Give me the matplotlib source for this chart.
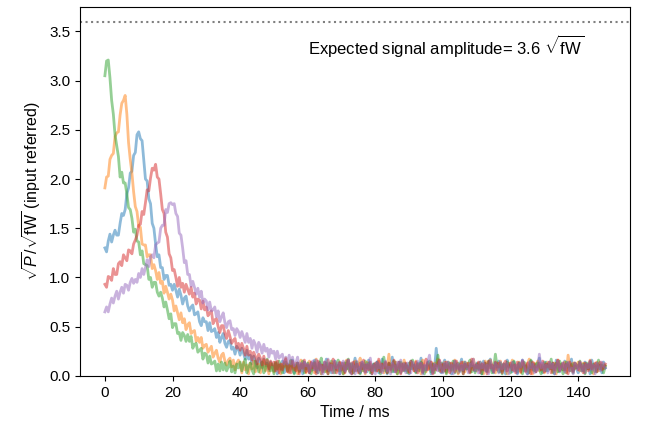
import numpy as np
import matplotlib
matplotlib.use("Agg")
import matplotlib.pyplot as plt

plt.rcParams["font.family"] = ["Liberation Sans", "DejaVu Sans"]
plt.rcParams["mathtext.fontset"] = "custom"
plt.rcParams["mathtext.rm"] = "Liberation Sans"
plt.rcParams["mathtext.it"] = "Liberation Sans:italic"

# sample step of the traces (ms)
dt = 0.5
amplitude = 3.6

# traces in units of 0.01 sqrt(fW), one sample every 0.5 ms
blue = [130, 126, 137, 144, 136, 143, 148, 143, 143, 155, 165, 163, 169, 185, 191, 206, 208, 224, 227, 245,
        248, 241, 239, 219, 200, 198, 180, 175, 155, 150, 134, 121, 123, 110, 110, 98, 102, 102, 92, 93,
        87, 93, 87, 80, 88, 82, 73, 79, 81, 71, 66, 70, 72, 62, 63, 65, 55, 51, 59, 55,
        55, 46, 54, 45, 46, 48, 39, 44, 34, 39, 43, 33, 29, 35, 36, 27, 29, 22, 30, 27,
        21, 28, 23, 17, 26, 17, 21, 12, 20, 16, 8, 18, 15, 8, 17, 10, 13, 5, 14, 9,
        5, 14, 2, 11, 7, 15, 3, 9, 12, 4, 10, 16, 3, 8, 13, 5, 11, 2, 14, 7,
        10, 3, 13, 6, 16, 4, 9, 14, 2, 11, 7, 17, 5, 12, 3, 9, 15, 6, 11, 2,
        13, 8, 4, 15, 7, 12, 2, 10, 18, 5, 9, 3, 14, 7, 11, 4, 16, 8, 2, 12,
        6, 14, 3, 10, 17, 5, 9, 2, 12, 7, 19, 4, 11, 6, 14, 3, 9, 13, 5, 10,
        2, 15, 7, 11, 4, 13, 8, 18, 3, 10, 6, 14, 9, 2, 12, 7, 28, 11, 5, 3,
        12, 16, 4, 9, 13, 2, 8, 15, 10, 3, 11, 17, 5, 12, 7, 10, 3, 14, 9, 5,
        13, 6, 11, 2, 15, 8, 4, 12, 17, 6, 3, 13, 9, 15, 4, 11, 7, 2, 16, 9,
        11, 4, 14, 7, 2, 13, 9, 16, 5, 10, 2, 8, 15, 6, 12, 4, 11, 18, 7, 3,
        9, 14, 5, 11, 7, 13, 2, 16, 8, 4, 12, 6, 15, 3, 13, 9, 17, 5, 10, 7,
        3, 13, 9, 5, 14, 7, 12, 2, 16, 9, 4, 13, 7, 11, 3, 14, 8]

orange = [191, 202, 203, 220, 224, 226, 243, 247, 248, 265, 277, 280, 285, 266, 237, 220, 206, 187, 172, 167,
          152, 151, 134, 133, 133, 121, 123, 123, 109, 113, 107, 98, 105, 94, 96, 84, 91, 85, 78, 83,
          77, 66, 71, 64, 57, 64, 54, 58, 47, 52, 54, 43, 45, 46, 35, 39, 34, 39, 28, 31,
          32, 24, 27, 30, 19, 23, 26, 18, 14, 21, 23, 15, 11, 16, 18, 9, 16, 6, 13, 16,
          12, 3, 14, 6, 11, 2, 13, 7, 15, 4, 10, 12, 3, 9, 16, 5, 11, 2, 13, 8,
          4, 14, 7, 11, 2, 12, 9, 18, 5, 3, 15, 10, 6, 13, 2, 9, 16, 7, 11, 3,
          12, 15, 5, 10, 3, 17, 8, 13, 2, 11, 9, 4, 16, 6, 12, 3, 14, 9, 5, 13,
          8, 2, 12, 16, 7, 4, 13, 3, 15, 9, 11, 18, 5, 10, 2, 14, 7, 12, 4, 11,
          9, 5, 15, 7, 12, 3, 13, 8, 22, 4, 11, 6, 14, 2, 10, 13, 5, 16, 9, 6,
          3, 13, 10, 5, 15, 8, 12, 2, 16, 9, 4, 12, 7, 14, 3, 13, 10, 17, 5, 11,
          7, 14, 3, 10, 13, 5, 11, 16, 8, 2, 12, 9, 14, 4, 13, 7, 3, 11, 17, 9,
          5, 13, 8, 12, 2, 15, 10, 4, 16, 11, 7, 3, 13, 9, 15, 5, 12, 8, 2, 13,
          9, 16, 5, 11, 7, 14, 3, 13, 10, 4, 12, 17, 8, 2, 13, 9, 15, 5, 11, 7,
          3, 11, 14, 7, 10, 4, 13, 2, 16, 9, 12, 6, 14, 3, 21, 9, 5, 13, 7, 11,
          14, 5, 10, 13, 3, 11, 7, 16, 9, 2, 11, 14, 5, 9, 13, 7, 10]

green = [305, 320, 321, 303, 280, 266, 245, 234, 223, 202, 207, 196, 196, 185, 171, 169, 160, 146, 149, 137,
         136, 123, 127, 114, 113, 112, 98, 100, 90, 95, 95, 85, 81, 85, 79, 70, 75, 67, 58, 63,
         49, 53, 53, 43, 44, 36, 44, 41, 35, 42, 35, 40, 28, 32, 33, 24, 26, 28, 17, 23,
         22, 13, 20, 12, 13, 15, 5, 12, 5, 14, 6, 13, 5, 9, 15, 4, 10, 3, 12, 8,
         14, 5, 12, 17, 3, 9, 13, 6, 2, 15, 11, 4, 10, 14, 3, 7, 17, 9, 5, 12,
         2, 13, 7, 15, 9, 3, 12, 14, 5, 10, 16, 6, 2, 11, 13, 4, 9, 15, 3, 8,
         13, 5, 2, 10, 14, 7, 3, 12, 18, 8, 4, 13, 2, 9, 15, 10, 3, 12, 16, 5,
         10, 2, 13, 7, 17, 4, 12, 3, 10, 14, 6, 2, 12, 5, 15, 8, 13, 3, 9, 12,
         5, 14, 9, 2, 11, 19, 7, 3, 13, 10, 4, 15, 11, 2, 8, 14, 10, 5, 12, 3,
         13, 7, 16, 9, 3, 12, 5, 14, 10, 2, 7, 13, 15, 4, 12, 3, 10, 21, 6, 13,
         4, 12, 2, 14, 10, 6, 15, 3, 11, 13, 5, 10, 2, 14, 7, 12, 16, 4, 10, 3,
         12, 7, 14, 2, 10, 13, 5, 15, 11, 3, 8, 22, 9, 4, 13, 2, 12, 7, 14, 10,
         3, 12, 15, 7, 4, 13, 10, 2, 14, 11, 6, 3, 16, 9, 5, 12, 13, 7, 2, 10,
         14, 5, 12, 7, 17, 3, 10, 13, 4, 15, 11, 2, 7, 14, 10, 5, 12, 3, 13, 8,
         10, 15, 5, 12, 2, 13, 7, 14, 3, 12, 9, 4, 16, 7, 11, 3, 10]

red = [93, 90, 101, 100, 97, 109, 103, 103, 114, 116, 112, 123, 120, 117, 128, 127, 124, 134, 138, 143,
       153, 154, 167, 164, 176, 189, 188, 201, 211, 209, 215, 202, 200, 185, 169, 165, 146, 141, 124, 120,
       107, 108, 100, 91, 100, 90, 94, 85, 93, 88, 83, 90, 80, 84, 73, 78, 77, 68, 76, 67,
       70, 61, 64, 66, 53, 57, 58, 50, 44, 51, 51, 43, 38, 46, 40, 33, 36, 38, 28, 33,
       26, 33, 28, 21, 30, 21, 25, 16, 24, 20, 12, 22, 18, 11, 20, 12, 16, 7, 15, 11,
       14, 5, 15, 3, 12, 6, 14, 17, 4, 11, 3, 15, 9, 5, 13, 2, 12, 8, 16, 4,
       11, 3, 14, 8, 13, 2, 15, 6, 11, 4, 14, 9, 2, 13, 6, 17, 11, 3, 10, 14,
       6, 13, 3, 11, 16, 8, 2, 14, 5, 12, 3, 13, 7, 16, 4, 11, 6, 14, 2, 10,
       13, 5, 17, 4, 12, 8, 14, 3, 13, 6, 11, 16, 4, 9, 14, 2, 12, 6, 13, 8,
       4, 15, 11, 5, 14, 3, 10, 13, 4, 12, 17, 6, 9, 14, 2, 11, 6, 13, 16, 4,
       12, 5, 14, 9, 3, 13, 11, 4, 15, 8, 6, 14, 2, 12, 9, 13, 4, 17, 6, 11,
       8, 14, 3, 12, 6, 13, 2, 15, 8, 11, 4, 14, 6, 13, 9, 3, 12, 15, 5, 10,
       13, 6, 11, 3, 14, 8, 4, 15, 12, 5, 13, 9, 2, 14, 11, 4, 9, 13, 6, 15,
       4, 12, 9, 14, 3, 13, 6, 11, 16, 5, 9, 13, 6, 12, 2, 14, 9, 4, 13, 11,
       6, 14, 9, 3, 13, 11, 5, 15, 7, 10, 13, 4, 11, 14, 6, 9, 12]

purple = [65, 70, 65, 73, 79, 74, 81, 86, 78, 85, 90, 84, 93, 92, 87, 95, 99, 94, 98, 95,
          104, 100, 109, 103, 110, 118, 111, 121, 123, 120, 133, 135, 136, 150, 153, 153, 169, 166, 175, 176,
          174, 175, 165, 162, 145, 143, 130, 115, 117, 103, 103, 91, 96, 90, 83, 89, 80, 86, 74, 78,
          76, 67, 75, 66, 67, 70, 60, 66, 55, 60, 64, 54, 49, 55, 56, 47, 48, 41, 48, 45,
          39, 45, 40, 34, 43, 34, 38, 28, 36, 32, 24, 34, 30, 23, 32, 25, 28, 19, 27, 23,
          25, 17, 25, 18, 20, 22, 12, 19, 12, 21, 12, 19, 10, 13, 19, 7, 13, 5, 14, 10,
          12, 4, 11, 15, 6, 16, 3, 13, 9, 2, 14, 7, 17, 5, 11, 3, 15, 8, 13, 2,
          11, 15, 5, 9, 16, 3, 13, 10, 2, 15, 8, 4, 14, 11, 3, 12, 7, 18, 5, 11,
          2, 14, 8, 12, 3, 11, 15, 5, 9, 2, 13, 10, 4, 14, 7, 16, 5, 12, 3, 13,
          8, 3, 14, 11, 5, 15, 8, 13, 2, 11, 6, 14, 21, 7, 3, 12, 10, 5, 15, 8,
          3, 13, 8, 14, 5, 11, 2, 15, 7, 12, 4, 11, 6, 14, 9, 3, 12, 10, 17, 5,
          11, 3, 14, 8, 13, 5, 11, 2, 15, 9, 4, 13, 10, 3, 14, 7, 12, 5, 13, 2,
          8, 14, 5, 11, 3, 13, 9, 16, 10, 4, 2, 14, 8, 12, 3, 10, 6, 22, 8, 13,
          5, 11, 3, 14, 8, 12, 2, 10, 15, 6, 9, 13, 4, 11, 14, 5, 8, 2, 13, 10,
          7, 14, 5, 11, 3, 12, 8, 15, 6, 11, 2, 13, 9, 5, 14, 10, 8]

traces = [blue, orange, green, red, purple]
colors = ["tab:blue", "tab:orange", "tab:green", "tab:red", "tab:purple"]

fig = plt.figure(figsize=(6.6, 4.3), dpi=100)
ax = fig.add_axes([0.121, 0.126, 0.834, 0.858])

for tr, c in zip(traces, colors):
    y = np.array(tr) / 100.0
    t = np.arange(len(y)) * dt
    ax.plot(t, y, color=c, alpha=0.5, linewidth=2)

ax.axhline(amplitude, color="grey", linestyle=":", linewidth=1.5)
ax.text(60, 3.35, r"Expected signal amplitude= 3.6 $\sqrt{\mathrm{fW}}$",
        fontsize=12, va="center", ha="left")

ax.set_xlim(-7.4, 155.4)
ax.set_ylim(0, 3.75)
ax.set_xticks([0, 20, 40, 60, 80, 100, 120, 140])
ax.set_yticks([0.0, 0.5, 1.0, 1.5, 2.0, 2.5, 3.0, 3.5])
ax.set_xlabel("Time / ms", fontsize=11.5)
ax.set_ylabel(r"$\sqrt{P}/\sqrt{\mathrm{fW}}$ (input referred)", fontsize=11.5)
ax.tick_params(labelsize=11)

fig.savefig("out.png", dpi=100)
